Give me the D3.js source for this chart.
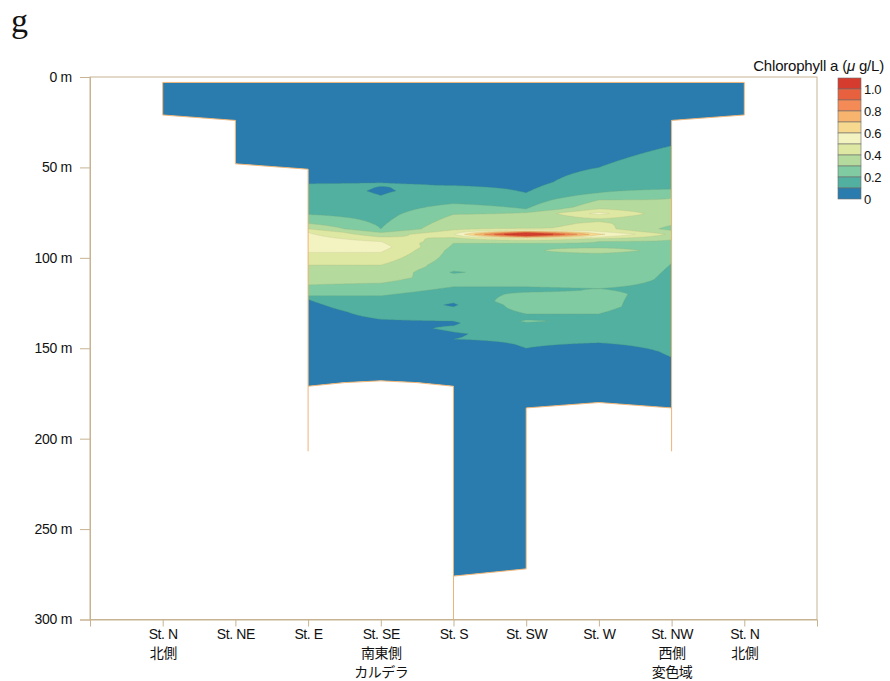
<!DOCTYPE html>
<html><head><meta charset="utf-8">
<script src="https://cdn.jsdelivr.net/npm/d3@7"></script>
<style>body{margin:0;background:#fff} svg{display:block}</style>
</head><body>
<svg id="c" width="890" height="681"></svg>
<script>
// ---------- data ----------
const stationNames = ["St. N","St. NE","St. E","St. SE","St. S","St. SW","St. W","St. NW","St. N"];
const stationSub = [["北側"],[],[],["南東側","カルデラ"],[],[],[],["西側","変色域"],["北側"]];
const stationPos = [1,2,3,4,5,6,7,8,9];
const depthTicks = [0,50,100,150,200,250,300];
const legendLabels = ["1.0","0.8","0.6","0.4","0.2","0"];
const levels = [0.1,0.2,0.3,0.4,0.5,0.6,0.7,0.8,0.9,1.0];
const bandColors = ["#2a7cae","#52b0a0","#80cba1","#b4da9e","#dfe8a2","#f3f3c1","#f6d98f","#f7b46f","#f48b56","#e8613e","#d63c2e"];
const topDepth = 3;
// sampled section outline along the bottom: [station position, depth m]
const bottomOutline = [[9,21],[8,24],[8,183],[7,180],[6,183],[6,272],[5,276],[5,171],[4.5,169],[4,168],[3.5,169],[3,171],[3,51],[2,48],[2,24],[1,21]];
// station depth marks: [station position, from depth, to depth]
const stationMarks = [[3,171,207],[8,183,207],[5,276,300]];
// chlorophyll profiles per station: [depth m, µg/L]
const profN  = [[0,0.03],[21,0.04]];
const profNE = [[0,0.03],[48,0.05]];
const profE  = [[0,0.03],[40,0.04],[55,0.07],[59,0.1],[62,0.14],[66,0.15],[76,0.2],[81,0.3],[84,0.4],[86,0.5],[91,0.58],[95,0.58],[97,0.5],[104,0.4],[115,0.3],[121,0.2],[123,0.1],[130,0.06],[171,0.04]];
const profSE = [[0,0.03],[40,0.04],[54,0.07],[58.5,0.1],[59.5,0.105],[60.5,0.1],[63,0.09],[65.5,0.1],[68,0.13],[75,0.16],[84,0.2],[86,0.3],[88.5,0.4],[91,0.5],[94,0.54],[97,0.5],[104,0.4],[108,0.39],[114,0.3],[121,0.2],[128,0.15],[134,0.1],[140,0.07],[168,0.04]];
const profS  = [[0,0.03],[40,0.04],[55,0.07],[60,0.1],[62,0.13],[70,0.2],[76,0.3],[84,0.38],[87,0.49],[89,0.39],[92,0.3],[96,0.27],[100,0.26],[105,0.24],[108,0.19],[111,0.24],[116,0.2],[120,0.15],[124,0.11],[126,0.09],[128,0.11],[133,0.12],[136,0.09],[139,0.11],[142,0.095],[145,0.1],[148,0.07],[180,0.05],[276,0.04]];
const profSW = [[0,0.03],[40,0.04],[58,0.07],[64,0.1],[70,0.17],[73,0.2],[75,0.3],[83.5,0.38],[85,0.55],[86,0.9],[87,1.22],[88,0.9],[89,0.55],[90.5,0.38],[92,0.3],[100,0.26],[110,0.25],[116,0.2],[118,0.18],[120,0.22],[124,0.27],[130,0.21],[133,0.18],[135,0.21],[137,0.18],[142,0.12],[150,0.1],[155,0.07],[200,0.05],[272,0.04]];
const profW  = [[0,0.03],[35,0.05],[50,0.1],[58,0.15],[64,0.2],[68,0.3],[72,0.36],[74,0.45],[75.5,0.53],[77,0.45],[79,0.38],[81,0.42],[84,0.44],[85.5,0.5],[87,0.62],[88.5,0.5],[89.5,0.38],[91,0.3],[94,0.28],[96,0.36],[98,0.28],[105,0.26],[112,0.25],[117,0.2],[120,0.22],[127,0.22],[131,0.2],[140,0.15],[147,0.1],[152,0.07],[180,0.05]];
const profNW = [[0,0.03],[30,0.05],[38,0.1],[50,0.15],[62,0.2],[67,0.3],[78,0.33],[82,0.3],[84,0.27],[87,0.38],[90,0.3],[95,0.26],[103,0.2],[120,0.17],[135,0.14],[150,0.11],[155,0.1],[160,0.07],[183,0.05]];
const profN2 = [[0,0.03],[21,0.04]];
const profiles = [profN, profNE, profE, profSE, profS, profSW, profW, profNW, profN2];

// ---------- layout ----------
const svg = d3.select("#c");
const FONT = "'Liberation Sans', Arial, 'Noto Sans CJK JP', sans-serif";
const x = d3.scaleLinear().domain([0,10]).range([90,817]);
const y = d3.scaleLinear().domain([0,300]).range([77,619.5]);

// title
svg.append("text").attr("x",11).attr("y",32).attr("font-family","'Liberation Serif','DejaVu Serif',serif")
  .attr("font-size",34).attr("fill","#111").text("g");

// frame
const frameCol = "#c7b391";
svg.append("rect").attr("x",x(0)).attr("y",y(0)).attr("width",x(10)-x(0)).attr("height",y(300)-y(0))
  .attr("fill","none").attr("stroke",frameCol).attr("stroke-width",1);

// ---------- grid + contours ----------
function profileAt(p, d){
  if (d <= p[0][0]) return p[0][1];
  for (let k=1;k<p.length;k++){
    if (d <= p[k][0]) { const t=(d-p[k-1][0])/(p[k][0]-p[k-1][0]); return p[k-1][1]+(p[k][1]-p[k-1][1])*t; }
  }
  return p[p.length-1][1];
}
const dx = 0.02, dd = 0.5;
const nx = Math.round(8/dx)+1, ny = Math.round(280/dd)+1;
const values = new Float64Array(nx*ny);
for (let j=0;j<ny;j++){
  const d = j*dd;
  const sv = profiles.map(p=>profileAt(p,d));
  for (let i=0;i<nx;i++){
    const s = i*dx;
    let k = Math.min(Math.floor(s+1e-9),7);
    const t = s-k;
    values[j*nx+i] = sv[k]*(1-t)+sv[k+1]*t;
  }
}
const contours = d3.contours().size([nx,ny]).thresholds(levels)(values);
const proj = d3.geoTransform({point:function(cx,cy){ this.stream.point(x(1+(cx-0.5)*dx), y((cy-0.5)*dd)); }});
const gpath = d3.geoPath(proj);

const outline = [[1,topDepth],[9,topDepth]].concat(bottomOutline);
const outlinePath = d3.line().x(d=>x(d[0])).y(d=>y(d[1]))(outline)+"Z";
svg.append("clipPath").attr("id","sec").append("path").attr("d",outlinePath);

const g = svg.append("g").attr("clip-path","url(#sec)");
g.append("path").attr("d",outlinePath).attr("fill",bandColors[0]);
g.selectAll("path.band").data(contours).join("path").attr("class","band")
  .attr("d",gpath)
  .attr("fill",(d,i)=>bandColors[i+1])
  .attr("stroke",(d,i)=>d3.color(bandColors[i+1]).darker(0.5))
  .attr("stroke-width",0.5).attr("stroke-opacity",0.7);

const edgeCol = "#eeb477";
svg.append("path").attr("d",outlinePath).attr("fill","none").attr("stroke",edgeCol).attr("stroke-width",1);
svg.selectAll("line.mark").data(stationMarks).join("line").attr("class","mark")
  .attr("x1",d=>x(d[0])).attr("x2",d=>x(d[0])).attr("y1",d=>y(d[1])).attr("y2",d=>y(d[2]))
  .attr("stroke",edgeCol).attr("stroke-width",1);

// ---------- axes ----------
const yAxis = svg.append("g").attr("transform",`translate(${x(0)},0)`)
  .call(d3.axisLeft(y).tickValues(depthTicks).tickSize(10).tickPadding(8).tickFormat(d=>d+" m"));
yAxis.select(".domain").attr("stroke",frameCol);
yAxis.selectAll(".tick line").attr("stroke",frameCol);
yAxis.selectAll(".tick text").attr("font-family",FONT).attr("font-size",14).attr("fill","#111").attr("letter-spacing","-0.3px");

const xAxis = svg.append("g").attr("transform",`translate(0,${y(300)})`)
  .call(d3.axisBottom(x).tickValues(stationPos).tickSize(7).tickPadding(3).tickFormat((d,i)=>stationNames[i]));
xAxis.select(".domain").attr("stroke",frameCol);
xAxis.selectAll(".tick line").attr("stroke",frameCol);
xAxis.selectAll(".tick text").attr("font-family",FONT).attr("font-size",14).attr("fill","#111").attr("letter-spacing","-0.4px")
  .each(function(d,i){
    const t = d3.select(this);
    stationSub[i].forEach((s,k)=>{
      t.append("tspan").attr("x",0).attr("dy",k===0?"1.35em":"1.3em").attr("letter-spacing","-0.5px").text(s);
    });
  });

// ---------- legend ----------
const lg = svg.append("g");
const lx = 838, ly = 78, lw = 23, lh = 11;
const legendColors = bandColors.slice().reverse();
lg.selectAll("rect").data(legendColors).join("rect")
  .attr("x",lx).attr("y",(d,i)=>ly+i*lh).attr("width",lw).attr("height",lh)
  .attr("fill",d=>d).attr("stroke","#6b6b6b").attr("stroke-width",0.6);
lg.selectAll("text").data(legendLabels).join("text")
  .attr("x",lx+lw+3).attr("y",(d,i)=>ly+lh*(1+2*i)+4.5)
  .attr("font-family",FONT).attr("font-size",13).attr("fill","#111").attr("letter-spacing","-0.3px").text(d=>d);
const lt = svg.append("text").attr("x",884).attr("y",71).attr("text-anchor","end")
  .attr("font-family",FONT).attr("font-size",15).attr("fill","#111").attr("letter-spacing","-0.2px");
lt.append("tspan").text("Chlorophyll a (");
lt.append("tspan").attr("font-style","italic").text("μ");
lt.append("tspan").text(" g/L)");
</script>
</body></html>
